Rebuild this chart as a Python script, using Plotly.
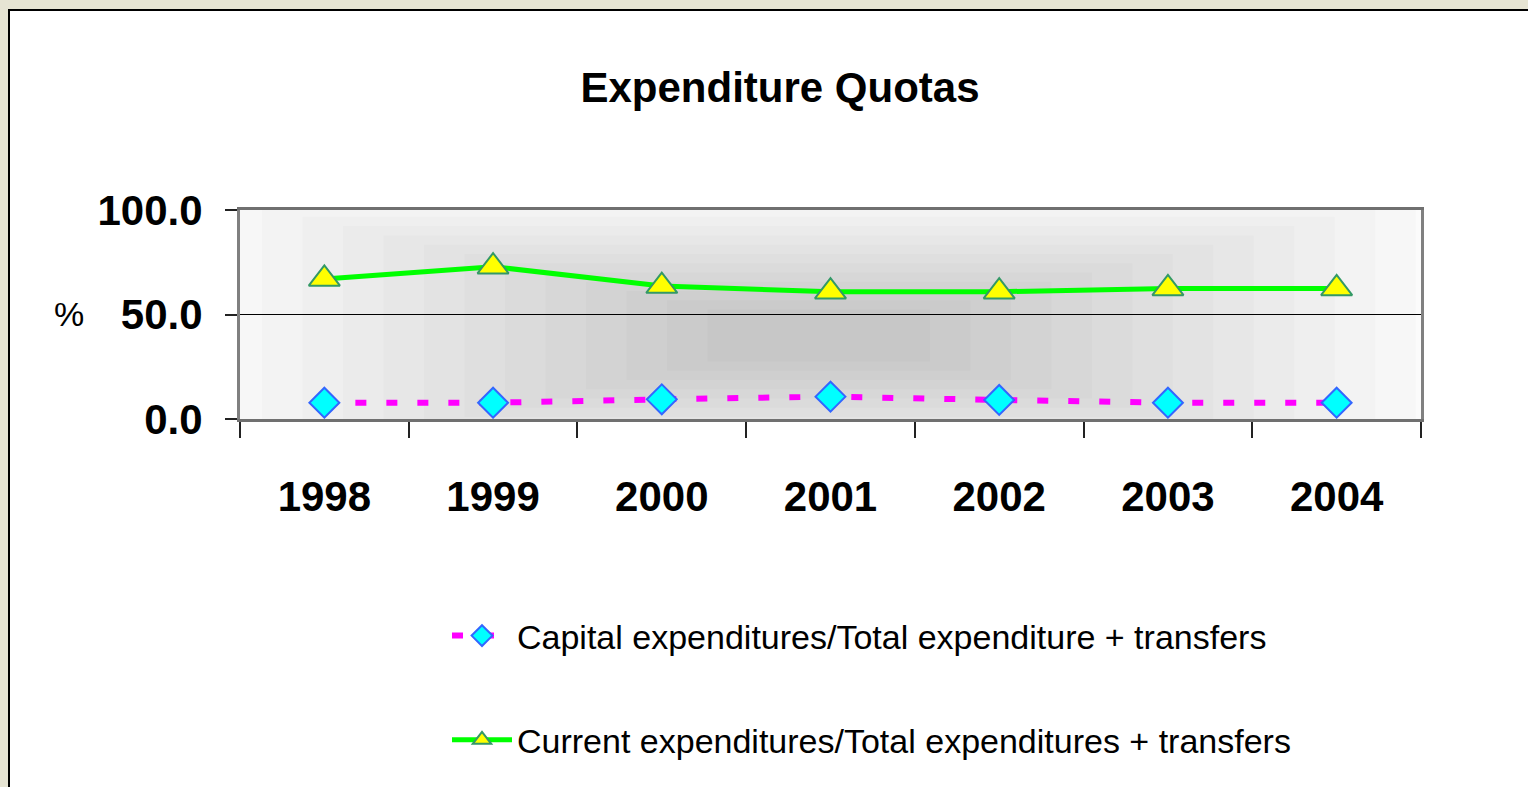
import plotly.graph_objects as go

years = ["1998", "1999", "2000", "2001", "2002", "2003", "2004"]
capital = [7.8, 7.8, 9.4, 10.7, 9.1, 7.8, 7.8]
current = [67.0, 72.9, 63.6, 60.9, 60.9, 62.5, 62.5]
y_ticks = [0, 50, 100]
y_tick_text = ["0.0", "50.0", "100.0"]

name_capital = "Capital expenditures/Total expenditure + transfers"
name_current = "Current expenditures/Total expenditures + transfers"

FONT = "Liberation Sans, Arial, sans-serif"

fig = go.Figure()
fig.add_trace(go.Scatter(
    x=years, y=capital, name=name_capital, mode="lines+markers",
    line=dict(color="#ff00ff", width=6, dash="11px,20px"),
    marker=dict(symbol="diamond", size=23, color="#00ffff",
                line=dict(color="#3366ff", width=2)),
    legendgroup="a",
))
fig.add_trace(go.Scatter(
    x=years, y=current, name=name_current, mode="lines+markers",
    line=dict(color="#00ff00", width=5),
    marker=dict(symbol="triangle-up", size=27, color="#ffff00",
                line=dict(color="#339966", width=2)),
    legendgroup="b",
))

# layout geometry (pixels)
W, H = 1528, 787
L, R, T, B = 240, 1421, 210, 419
pw, ph = R - L, B - T

def px(x):
    return (x - L) / pw

def py(y):
    return (B - y) / ph

shapes = []
# white panel with black border
shapes.append(dict(type="rect", xref="paper", yref="paper", layer="below",
                   x0=px(9), x1=px(1540), y0=py(800), y1=py(10),
                   fillcolor="white", line=dict(color="black", width=2)))
# radial-ish gradient in plot area
n = 14
for i in range(n):
    f = i / n
    hw = 0.48 * (1 - f) + 0.06
    hh = 0.62 * (1 - f) + 0.08
    cx, cy = 0.49, 0.40
    shapes.append(dict(type="rect", xref="x domain", yref="y domain", layer="below",
                       x0=max(0, cx - hw), x1=min(1, cx + hw),
                       y0=max(0, cy - hh), y1=min(1, cy + hh),
                       fillcolor="rgba(0,0,0,0.016)", line=dict(width=0)))

fig.update_layout(
    width=W, height=H,
    margin=dict(l=L, r=W - R, t=T, b=H - B, pad=0),
    paper_bgcolor="#e6e4d3",
    plot_bgcolor="#f5f5f5",
    shapes=shapes,
    title=dict(text="<b>Expenditure Quotas</b>", x=780 / W, xanchor="center",
               y=1 - 87 / H, yanchor="middle", yref="container",
               font=dict(family=FONT, size=42, color="black")),
    showlegend=True,
    legend=dict(x=px(447), xanchor="left", y=py(607), yanchor="top",
                bgcolor="rgba(0,0,0,0)", font=dict(family=FONT, size=34, color="black"),
                tracegroupgap=57, itemwidth=60),
    annotations=[dict(text="%", xref="paper", yref="paper", x=px(52), y=py(314),
                      showarrow=False, font=dict(family=FONT, size=34, color="black"))],
)
fig.update_xaxes(
    type="category", range=[-0.5, len(years) - 0.5],
    tickson="boundaries", ticks="outside", ticklen=16,
    tickcolor="#222222", tickwidth=1.5, showgrid=False,
    showline=True, linecolor="#707070", linewidth=3, mirror=True,
    tickfont=dict(family=FONT, size=42, color="black"),
    tickprefix="<b>", ticksuffix="</b>", ticklabelstandoff=39,
)
fig.update_yaxes(
    range=[0, 100], tickvals=y_ticks, ticktext=["<b>" + t + "</b>" for t in y_tick_text],
    ticks="outside", ticklen=12, tickcolor="#222222", tickwidth=1.5,
    showgrid=True, gridcolor="black", gridwidth=1,
    showline=True, linecolor="#808080", linewidth=3, mirror=True,
    tickfont=dict(family=FONT, size=42, color="black"), ticklabelstandoff=14,
    zeroline=False,
)

fig.write_html("out.html", config={"displayModeBar": False},
               post_script="document.body.style.margin='0';document.body.style.background='#e6e4d3';")
